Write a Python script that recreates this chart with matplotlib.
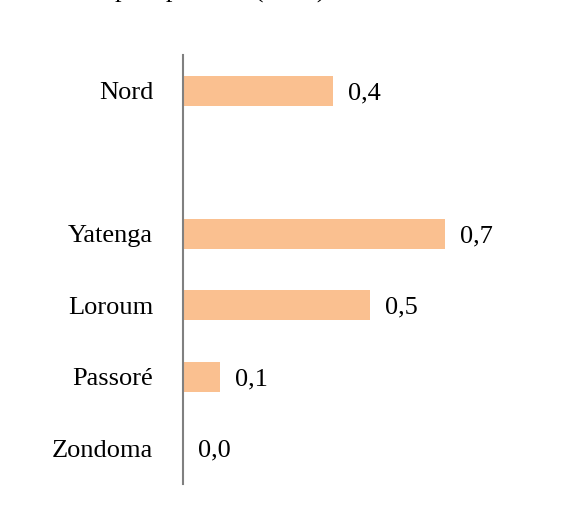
import matplotlib
matplotlib.use("Agg")
import matplotlib.pyplot as plt

plt.rcParams['font.family'] = ['Liberation Serif', 'DejaVu Serif']

categories = ["Nord", "", "Yatenga", "Loroum", "Passoré", "Zondoma"]
values = [0.4, None, 0.7, 0.5, 0.1, 0.0]
labels = ["0,4", "", "0,7", "0,5", "0,1", "0,0"]
title = "Part des plus pauvres (en %)"

W, H = 569, 531
FS = 19
fig = plt.figure(figsize=(W / 100, H / 100), dpi=100)
ax = fig.add_axes([183 / W, 1 - 484 / H, (557 - 183) / W, (484 - 55) / H])

pos = list(range(len(categories)))
for p, v, lab in zip(pos, values, labels):
    if v is None:
        continue
    ax.barh(p, v, height=0.42, color='#FAC090', edgecolor='none')
    ax.text(v + 0.04, p, lab, va='center_baseline', ha='left', fontsize=FS, color='black')

ax.set_yticks(pos)
ax.set_yticklabels(categories, fontsize=FS, va='center_baseline')
ax.tick_params(axis='y', length=0, pad=21.5)
ax.set_ylim(len(categories) - 0.5, -0.5)
ax.set_xlim(0, 1.0)
ax.set_xticks([])
for s in ['top', 'right', 'bottom']:
    ax.spines[s].set_visible(False)
ax.spines['left'].set_color('#808080')
ax.spines['left'].set_linewidth(1.5)

fig.text(24 / W, 1 + 2 / H, title, ha='left', va='baseline', fontsize=FS)

fig.savefig('out.png', dpi=100)
